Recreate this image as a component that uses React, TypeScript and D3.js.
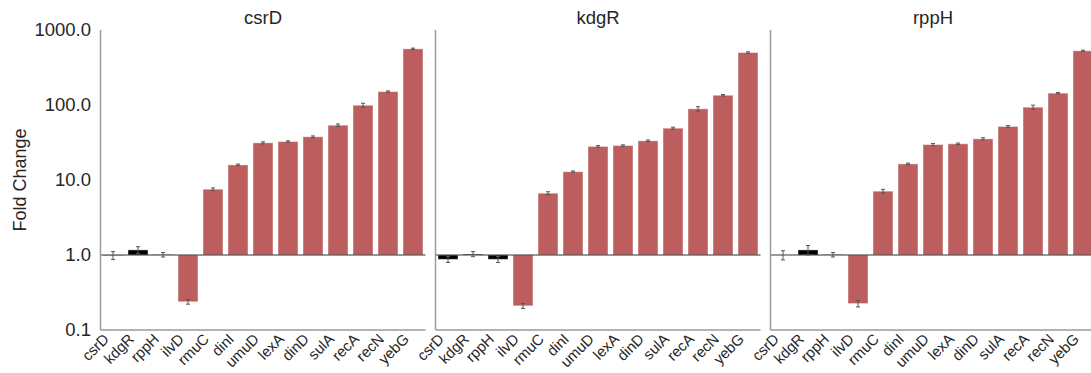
import React from "react";
import * as d3 from "d3";

const genes = ["csrD", "kdgR", "rppH", "ilvD", "rmuC", "dinI", "umuD", "lexA", "dinD", "sulA", "recA", "recN", "yebG"];
const panelTitles = ["csrD", "kdgR", "rppH"];

const csrDFold = [0.99, 1.17, 1.01, 0.238, 7.54, 15.9, 31.3, 32.6, 37.7, 53.8, 99.3, 151, 561];
const csrDErr = [0.12, 0.12, 0.07, 0.017, 0.3, 0.4, 1.0, 0.8, 1.0, 2.0, 6.0, 3.0, 12];
const kdgRFold = [0.875, 1.03, 0.875, 0.21, 6.67, 12.9, 28.0, 28.8, 33.3, 49.1, 89, 135, 501];
const kdgRErr = [0.08, 0.08, 0.08, 0.016, 0.3, 0.3, 0.8, 0.6, 0.8, 1.5, 6, 3, 12];
const rppHFold = [1.0, 1.17, 1.01, 0.225, 7.1, 16.4, 29.7, 30.4, 35.4, 51.7, 93.5, 144, 528];
const rppHErr = [0.14, 0.17, 0.07, 0.022, 0.4, 0.4, 1.0, 0.7, 1.2, 1.5, 6, 3, 10];

const yTicks = [0.1, 1, 10, 100, 1000];

const panelValues = [csrDFold, kdgRFold, rppHFold];
const panelErrors = [csrDErr, kdgRErr, rppHErr];

const W = 1091;
const H = 373;
const panelLeft = [100.5, 435.5, 770.5];
const panelWidth = 325;
const top = 30;
const bottom = 330;
const RED = "#bc5e5e";
const TXT = "#262626";
const SPINE = "#9a9a9a";
const FONT = "'Liberation Sans', Arial, sans-serif";

export default function App() {
  const y = d3.scaleLog().domain([0.1, 1000]).range([bottom, top]);
  const fmt = d3.format(".1f");
  return (
    <svg width={W} height={H} style={{ position: "absolute", left: 0, top: 0, background: "#fff" }} fontFamily={FONT}>
      <text transform={`translate(26,${(top + bottom) / 2}) rotate(-90)`} textAnchor="middle" fontSize={18} fill={TXT}>
        Fold Change
      </text>
      {yTicks.map((t) => (
        <text key={t} x={91} y={y(t)} dy="0.35em" textAnchor="end" fontSize={18.5} fill={TXT}>
          {fmt(t)}
        </text>
      ))}
      {panelTitles.map((title, p) => {
        const x = d3.scaleBand().domain(genes).range([panelLeft[p], panelLeft[p] + panelWidth]).paddingInner(0.2).paddingOuter(0.1);
        const vals = panelValues[p];
        const errs = panelErrors[p];
        const x0 = panelLeft[p];
        const bw = x.bandwidth();
        return (
          <g key={title}>
            <text x={x0 + panelWidth / 2} y={24} textAnchor="middle" fontSize={18.5} fill={TXT}>
              {title}
            </text>
            {genes.map((g, i) => {
              const v = vals[i];
              const y1 = y(Math.max(v, 1));
              const y2 = y(Math.min(v, 1));
              return (
                <rect
                  key={g}
                  x={x(g)}
                  y={y1}
                  width={bw}
                  height={Math.max(0, y2 - y1)}
                  fill={i < 3 ? "#000" : RED}
                  stroke="rgba(255,255,255,0.45)"
                  strokeWidth={1}
                />
              );
            })}
            <line x1={x0} x2={x0 + panelWidth} y1={y(1)} y2={y(1)} stroke="#333" strokeWidth={1.2} />
            {genes.map((g, i) => {
              const cx = (x(g) as number) + bw / 2;
              const v = vals[i];
              const e = errs[i];
              const ya = y(v + e);
              const yb = y(Math.max(v - e, 0.01));
              return (
                <g key={g} stroke="#555" strokeWidth={1}>
                  <line x1={cx} x2={cx} y1={ya} y2={yb} />
                  <line x1={cx - 2} x2={cx + 2} y1={ya} y2={ya} />
                  <line x1={cx - 2} x2={cx + 2} y1={yb} y2={yb} />
                </g>
              );
            })}
            <line x1={x0} x2={x0} y1={top} y2={bottom} stroke={SPINE} strokeWidth={1.5} />
            <line x1={x0} x2={x0 + panelWidth} y1={bottom} y2={bottom} stroke={SPINE} strokeWidth={1.5} />
            {genes.map((g) => {
              const cx = (x(g) as number) + bw / 2;
              const ax = cx - 3;
              const ay = bottom + 10;
              return (
                <text
                  key={g}
                  x={ax}
                  y={ay}
                  transform={`rotate(-45 ${ax} ${ay})`}
                  textAnchor="end"
                  fontSize={15}
                  fill={TXT}
                >
                  {g}
                </text>
              );
            })}
          </g>
        );
      })}
    </svg>
  );
}
